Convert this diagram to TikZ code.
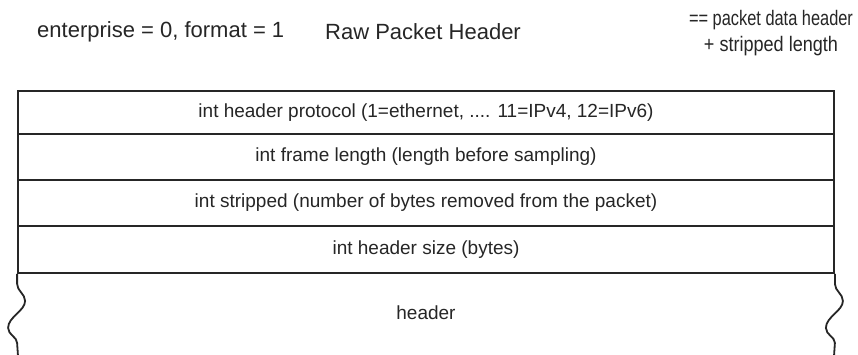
\documentclass[tikz,border=0pt]{standalone}
\usepackage{fontspec}
\usepackage{graphicx}
\setmainfont{Liberation Sans}
\begin{document}
\begin{tikzpicture}[x=1pt,y=-1pt,
  rowbox/.style={draw=black!85,line width=1.8pt,minimum width=816pt,inner sep=0pt,font=\fontsize{19}{22}\selectfont,text=black!85},
  toplabel/.style={font=\fontsize{22}{27}\selectfont,text=black!85,inner sep=0pt},
  edge/.style={draw=black!85,line width=1.8pt}]
\useasboundingbox (0,0) rectangle (858,354);
\fill[white] (0,0) rectangle (858,354);
% top labels
\node[toplabel,anchor=west] (ent) at (37,32) {enterprise = 0, format = 1};
\node[toplabel,anchor=west] (raw) at (325,32) {Raw Packet Header};
\node[toplabel,align=center,font=\fontsize{21}{26}\selectfont] (eq) at (771,33) {\scalebox{0.78}[1]{== packet data header}\\\scalebox{0.86}[1]{+ stripped length}};
% rows
\node[rowbox,minimum height=43pt] (r1) at (426,112.5) {int header protocol (1=ethernet, .... 11=IPv4, 12=IPv6)};
\node[rowbox,minimum height=46pt] (r2) at (426,157) {int frame length (length before sampling)};
\node[rowbox,minimum height=46pt] (r3) at (426,203) {int stripped (number of bytes removed from the packet)};
\node[rowbox,minimum height=47pt] (r4) at (426,249.5) {int header size (bytes)};
% header region with wavy sides
\coordinate (lb) at (r4.south west);
\coordinate (rb) at (r4.south east);
\draw[edge] (lb) -- ++(0,10) .. controls ++(0,7) and ++(0,-7) .. ++(8,17)
  .. controls ++(0,10) and ++(0,-11) .. ++(-17,27)
  .. controls ++(0,7) and ++(0,-6) .. ++(9,15) -- (18,356);
\draw[edge] (rb) -- ++(0,10) .. controls ++(0,7) and ++(0,-7) .. ++(8,17)
  .. controls ++(0,10) and ++(0,-11) .. ++(-17,27)
  .. controls ++(0,7) and ++(0,-6) .. ++(9,15) -- (834,356);
\node[font=\fontsize{19}{22}\selectfont,text=black!85] (hdr) at (426,313) {header};
\end{tikzpicture}
\end{document}
